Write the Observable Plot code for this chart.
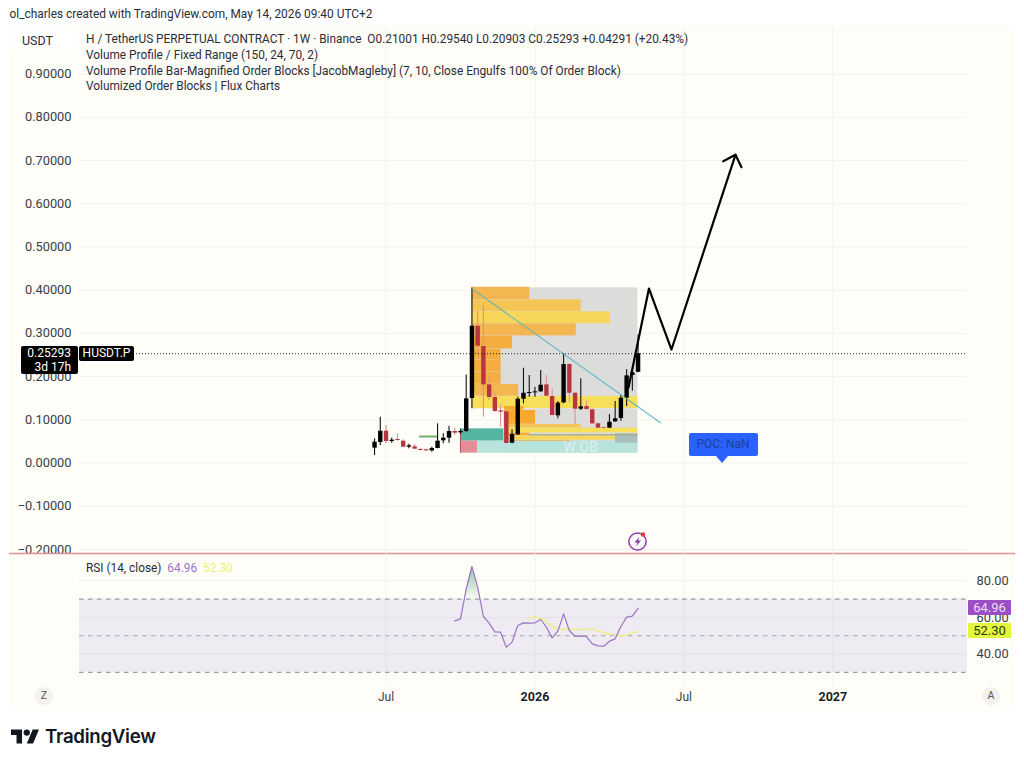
<!DOCTYPE html>
<html><head><meta charset="utf-8">
<script src="https://cdn.jsdelivr.net/npm/d3@7"></script>
<script src="https://cdn.jsdelivr.net/npm/@observablehq/plot@0.6"></script>
<style>
html,body{margin:0;padding:0;background:#fff;width:1024px;height:764px;overflow:hidden}
body{position:relative;font-family:Roboto,"Liberation Sans",sans-serif;color:#2a2e39}
.abs{position:absolute;white-space:nowrap}
#panel{left:8.5px;top:26px;width:1006.5px;height:683px;background:#fefdf8}
#price,#rsi{position:absolute;left:0}
#price{top:0}#rsi{top:553px}
svg{display:block}
.leg{left:86px;font-size:11.85px;line-height:16px}
.tag{background:#000;color:#fff;font-size:12px;border-radius:2px}
.rtag{left:968px;width:43px;height:15px;line-height:15px;text-align:center;font-size:13px;border-radius:1px}
.round{width:18px;height:18px;line-height:18px;border-radius:50%;background:#f2f1ee;text-align:center;font-size:10.5px;color:#555}
</style></head><body>
<div class="abs" id="panel"></div>
<div id="price"></div>
<div id="rsi"></div>
<div class="abs" style="left:9.5px;top:6px;font-size:11.9px;line-height:16px">ol_charles created with TradingView.com, May 14, 2026 09:40 UTC+2</div>
<div class="abs" style="left:13px;top:29px;width:62px;height:23px;background:#fff;border-radius:4px;font-size:12.5px;line-height:23px;text-indent:9px">USDT</div>
<div class="abs leg" style="top:31px">H / TetherUS PERPETUAL CONTRACT · 1W · Binance &nbsp;O0.21001 H0.29540 L0.20903 C0.25293 +0.04291 (+20.43%)</div>
<div class="abs leg" style="top:47px">Volume Profile / Fixed Range (150, 24, 70, 2)</div>
<div class="abs leg" style="top:63px">Volume Profile Bar-Magnified Order Blocks [JacobMagleby] (7, 10, Close Engulfs 100% Of Order Block)</div>
<div class="abs leg" style="top:78px">Volumized Order Blocks | Flux Charts</div>
<div class="abs tag" style="left:21px;top:346px;width:50px;height:28px;padding-right:7px;text-align:right;line-height:14px">0.25293<br>3d 17h</div>
<div class="abs tag" style="left:79px;top:346px;width:55px;height:15px;line-height:15px;text-align:center;font-size:12px">HUSDT.P</div>
<div class="abs" style="left:688.5px;top:433px;width:69px;height:23px;background:#2962ff;border-radius:2px;color:#1c3f99;font-size:12px;line-height:23px;text-align:center">POC: NaN</div>
<div class="abs" style="left:716px;top:456px;width:0;height:0;border-left:6px solid transparent;border-right:6px solid transparent;border-top:7px solid #2962ff"></div>
<svg class="abs" style="left:626px;top:530px" width="24" height="22" viewBox="0 0 24 22"><circle cx="11.5" cy="11.5" r="8.6" fill="none" stroke="#8e3aa6" stroke-width="1.5"/><path d="M13.5 6.5 8.5 12.5h3l-1.5 4 5-6h-3z" fill="#8e3aa6"/><circle cx="17" cy="4.5" r="2.2" fill="#e53945"/></svg>
<div class="abs" style="left:86px;top:560px;font-size:11.85px;line-height:16px">RSI (14, close) &nbsp;<span style="color:#9a72c9">64.96</span> &nbsp;<span style="color:#eef27a">52.30</span></div>
<div class="abs rtag" style="top:600px;background:#9c4fc4;color:#ecdff5">64.96</div>
<div class="abs rtag" style="top:623px;background:#e2f63c;color:#33351a">52.30</div>
<div class="abs round" style="left:35px;top:687px">Z</div>
<div class="abs round" style="left:982px;top:687px">A</div>
<svg class="abs" style="left:11px;top:729px" width="28" height="15" viewBox="0 4 35.5 18"><path d="M14 22H7V11H0V4h14v18zM28 22h-8l7.5-18h8L28 22z" fill="#131722"/><circle cx="20" cy="8" r="4" fill="#131722"/></svg>
<div class="abs" style="left:45px;top:725px;font-family:Inter,sans-serif;font-size:18.7px;line-height:24px;font-weight:600;color:#131722;letter-spacing:-.3px">TradingView</div>
<script>
const candleOpen=[.0343,.0474,.0736,.0497,.0544,.0505,.0366,.0374,.0312,.0305,.0281,.0335,.0513,.0574,.0729,.0698,.0729,.1492,.3165,.2695,.1808,.1515,.1207,.1184,.0459,.0651,.1476,.1608,.1623,.1646,.1808,.1538,.1091,.1392,.2278,.1615,.1245,.1307,.1230,.0906,.0821,.0806,.0952,.1029,.1500,.2024,.21001];
const candleHigh=[.0559,.1060,.0867,.0574,.0675,.0536,.0436,.0428,.0335,.0312,.0366,.0906,.0675,.0852,.0806,.0767,.2039,.4052,.3512,.3643,.1985,.1600,.1330,.1214,.0767,.1523,.2193,.2024,.1754,.2140,.2024,.1715,.1422,.2525,.2294,.1615,.1947,.1430,.1253,.0921,.0829,.1122,.1422,.1561,.2155,.2140,.29540];
const candleLow=[.0173,.0405,.0443,.0459,.0505,.0351,.0328,.0305,.0281,.0274,.0251,.0328,.0443,.0459,.0636,.0659,.0713,.1253,.2487,.1060,.1446,.1176,.0829,.0443,.0443,.0636,.1369,.1523,.1523,.1638,.1538,.1099,.1022,.1369,.1407,.0891,.1214,.1230,.0891,.0798,.0798,.0798,.0944,.0968,.1307,.1661,.20903];
const candleClose=[.0482,.0736,.0497,.0528,.0520,.0366,.0397,.0320,.0289,.0281,.0335,.0505,.0574,.0729,.0690,.0729,.1484,.3165,.2702,.1808,.1515,.1191,.1176,.0451,.0659,.1476,.1615,.1631,.1646,.1800,.1546,.1099,.1384,.2278,.1615,.1245,.1299,.1237,.0906,.0806,.0806,.0944,.1022,.1500,.2016,.2086,.25293];
const rsiValues=[58.12,59.22,75.61,87.81,76.52,60.49,56.85,52.11,51.93,43.73,46.47,55.57,57.03,56.85,57.03,58.85,54.66,48.83,52.48,61.95,52.84,49.56,49.93,49.56,45.56,44.46,44.28,47.01,48.29,55.03,60.13,60.67,64.96];
const rsiStart=14;
const maValues=[59.76,60.13,59.58,57.76,55.03,53.57,53.39,53.57,53.39,53.39,53.57,53.57,52.48,51.75,51.02,50.47,49.93,50.29,51.38,52.30];
const maStart=27;
const overboughtX=[15.66,16,17,18,18.41];
const overboughtY=[70,75.61,87.81,76.52,70];
// volume profile rows
const rowTop=[.4067,.3774,.3497,.3219,.2934,.2633,.2371,.2101,.1816,.1538,.1307,.1214,.0891,.0806,.0690,.0621,.0520];
const rowBottom=[.3774,.3497,.3219,.2934,.2633,.2371,.2101,.1816,.1538,.1253,.1214,.0891,.0806,.0690,.0621,.0520,.0436];
const rowStart=[17.04,17.04,17.04,17.04,17.04,17.04,17.04,17.04,17.04,17.04,22.69,22.69,22.69,22.69,22.69,22.69,23.2];
const rowEnd=[27.1,36.07,41.19,35.2,24.08,22.1,22.1,22.1,25.13,45.96,26.06,28.1,36.07,45.96,27.1,42.06,34.32];
const rowKind=["b","c","d","b","a","a","a","a","b","e","f","f","c","e","f","d","a"];
const kinds=["a","b","c","d","e","f"];
const kindFills=["#f6ad40","#f3b650","#f5c653","#f7d75a","#f7df5a","#f9a92a"];
// order blocks (x1,x2,top,bottom)
const blockNames=["bull","bear","zone","faint"];
const blockX1=[15,15,18.03,42.06];
const blockX2=[22.57,18.03,45.96,45.96];
const blockTop=[.0790,.0505,.0505,.0675];
const blockBottom=[.0505,.0227,.0227,.0459];
const blockFills=["#55b5a2","#e58e98","#b8e3dc","#a9bfbe"];
const grayX1=[17.04,22.57];
const grayX2=[45.96,45.96];
const grayTop=[.4052,.1253];
const grayBottom=[.1253,.0227];
const trendX=[17.04,49.9];
const trendY=[.4029,.0929];
const pathX=[44.33,47.9,51.83,63.0];
const pathY=[.1747,.4037,.2626,.7131];
const barbX=[60.86,63.0,64.05];
const barbY=[.6983,.7131,.6844];
const markerX=[7.9,10.9];
const markerY=[.0613,.0613];
const dottedX=[27.1,45.96];
const dottedY=[.0655,.0655];
const priceTicks=[-0.2,-0.1,0,.1,.2,.3,.4,.5,.6,.7,.8,.9];
const lastPrice=.25293;
const timeTicks=[2,28,54,80];
const timeLabels=["Jul","2026","Jul","2027"];
const rsiTicks=[80,60,40];
const rsiOuter=[70,30];
const rsiMiddle=[50];

const xDomain=[-51.5,103.5];
const panelDomain=[-63.7,111.9];
const candles=candleOpen.map((o,i)=>({i,o,h:candleHigh[i],l:candleLow[i],c:candleClose[i],up:candleClose[i]>=o}));
const rows=rowTop.map((t,i)=>({t,b:rowBottom[i],x1:rowStart[i],x2:rowEnd[i],k:rowKind[i]}));
const blocks=blockNames.map((n,i)=>({n,x1:blockX1[i],x2:blockX2[i],t:blockTop[i],b:blockBottom[i]}));
const gray=grayX1.map((x,i)=>({x1:x,x2:grayX2[i],t:grayTop[i],b:grayBottom[i]}));
const xy=(X,Y)=>X.map((x,i)=>({x,y:Y[i]}));
const rsi=rsiValues.map((v,i)=>({x:i+rsiStart,y:v}));
const ma=maValues.map((v,i)=>({x:i+maStart,y:v}));
const red="#b8343f", blk="#000";

const price=Plot.plot({
  width:1024,height:575,marginTop:26,marginBottom:22,marginLeft:79,marginRight:57,
  style:{background:"transparent",fontFamily:"Roboto,'Liberation Sans',sans-serif",fontSize:"12.8px",color:"#2a2e39"},
  x:{domain:xDomain,axis:null},
  y:{domain:[-0.2094,1.01],axis:null},
  color:{domain:kinds,range:kindFills},
  marks:[
    Plot.gridX(timeTicks,{stroke:"#f3f1eb",strokeOpacity:1}),
    Plot.gridY(priceTicks,{stroke:"#f3f1eb",strokeOpacity:1}),
    Plot.axisY(priceTicks,{anchor:"left",tickSize:0,tickPadding:8,tickFormat:d3.format(".5f"),label:null,fill:"#3a3e48"}),
    Plot.rect(gray,{x1:"x1",x2:"x2",y1:"b",y2:"t",fill:"#dcdcdb"}),
    Plot.rect(rows,{x1:"x1",x2:"x2",y1:"b",y2:"t",fill:"k",insetBottom:.3}),
    Plot.rect(blocks,{x1:"x1",x2:"x2",y1:"b",y2:"t",fill:d=>blockFills[blockNames.indexOf(d.n)]}),
    Plot.line(xy(dottedX,dottedY),{x:"x",y:"y",stroke:"#a4a98a",strokeDasharray:"2 1.5",strokeWidth:1.6}),
    Plot.ruleX([15],{y1:.0790,y2:.0227,stroke:"#a8505a",strokeWidth:1}),
    Plot.text(["W OB"],{x:35.95,y:.0359,fill:"#fff",fillOpacity:.5,fontSize:14}),
    Plot.line(xy(markerX,markerY),{x:"x",y:"y",stroke:"#6db16a",strokeWidth:2}),
    Plot.ruleX(candles,{x:"i",y1:"l",y2:"h",stroke:d=>d.up?"#111":"#df8f96",strokeWidth:1.1}),
    Plot.ruleX(candles,{x:"i",y1:d=>Math.min(d.o,d.c),y2:d=>Math.max(d.o,d.c),stroke:d=>d.up?blk:red,strokeWidth:4.4}),
    Plot.line(xy(trendX,trendY),{x:"x",y:"y",stroke:"#4fb4c4",strokeOpacity:.85,strokeWidth:1.2}),
    Plot.ruleY([lastPrice],{stroke:"#222",strokeDasharray:"1 2",strokeWidth:1}),
    Plot.line(xy(pathX,pathY),{x:"x",y:"y",stroke:"#000",strokeWidth:2.2,curve:"linear"}),
    Plot.line(xy(barbX,barbY),{x:"x",y:"y",stroke:"#000",strokeWidth:2.2,curve:"linear"}),
    Plot.ruleY([-0.2094],{stroke:"#e0929b",strokeWidth:1.6,x1:panelDomain[0],x2:panelDomain[1]})
  ]
});
document.getElementById("price").append(price);

const defs=()=>{const n=d3.create("svg:defs");const g=n.append("linearGradient").attr("id","obGrad").attr("x1",0).attr("x2",0).attr("y1",0).attr("y2",1);
 g.append("stop").attr("offset","0%").attr("stop-color","#6fb58d").attr("stop-opacity",.75);
 g.append("stop").attr("offset","100%").attr("stop-color","#6fb58d").attr("stop-opacity",.05);return n.node();};
const rsiPlot=Plot.plot({
  width:1024,height:157,marginTop:0,marginBottom:25,marginLeft:79,marginRight:57,
  style:{background:"transparent",fontFamily:"Roboto,'Liberation Sans',sans-serif",fontSize:"12.8px",color:"#2a2e39"},
  x:{domain:xDomain,axis:null},
  y:{domain:[22.8,94.9],axis:null},
  marks:[
    defs,
    Plot.gridX(timeTicks,{stroke:"#f3f1eb",strokeOpacity:1}),
    Plot.gridY(rsiTicks,{stroke:"#f3f1eb",strokeOpacity:1}),
    Plot.rectY([0],{x1:xDomain[0],x2:xDomain[1],y1:30,y2:70,fill:"#6a4fc0",fillOpacity:.1}),
    Plot.ruleY(rsiOuter,{stroke:"#85858c",strokeDasharray:"4.5 4.5",strokeWidth:1}),
    Plot.ruleY(rsiMiddle,{stroke:"#a8a6ae",strokeDasharray:"4.5 4.5",strokeWidth:1}),
    Plot.axisY(rsiTicks,{anchor:"right",tickSize:0,tickPadding:9,tickFormat:d3.format(".2f"),label:null,fill:"#3a3e48"}),
    Plot.axisX(timeTicks.filter((_,i)=>i%2==0),{anchor:"bottom",tickSize:0,tickPadding:7,label:null,tickFormat:d=>timeLabels[timeTicks.indexOf(d)],fill:"#3a3e48",fontSize:12}),
    Plot.axisX(timeTicks.filter((_,i)=>i%2==1),{anchor:"bottom",tickSize:0,tickPadding:7,label:null,tickFormat:d=>timeLabels[timeTicks.indexOf(d)],fill:"#1c1f27",fontWeight:700,fontSize:12.5}),
    Plot.areaY(xy(overboughtX,overboughtY),{x:"x",y1:70,y2:"y",fill:"url(#obGrad)"}),
    Plot.line(ma,{x:"x",y:"y",stroke:"#efee7e",strokeWidth:1.4}),
    Plot.line(rsi,{x:"x",y:"y",stroke:"#9b74c6",strokeWidth:1.2})
  ]
});
document.getElementById("rsi").append(rsiPlot);
</script>
</body></html>
